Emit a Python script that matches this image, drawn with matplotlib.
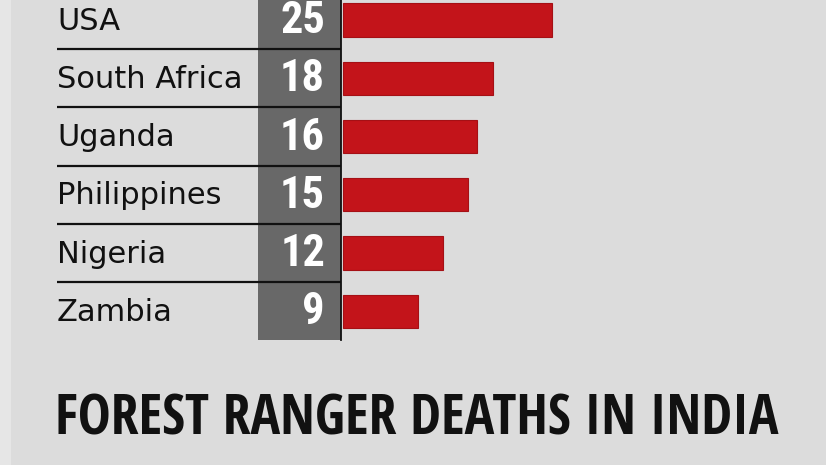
import matplotlib
matplotlib.use("Agg")
import matplotlib.pyplot as plt
from matplotlib.patches import Rectangle

countries = ["USA", "South Africa", "Uganda", "Philippines", "Nigeria", "Zambia"]
deaths = [25, 18, 16, 15, 12, 9]
title = "FOREST RANGER DEATHS IN INDIA"

bg = "#dcdcdc"
red = "#c3141a"
col_gray = "#686868"

W, H = 826, 465
fig = plt.figure(figsize=(W / 100, H / 100), dpi=100, facecolor=bg)
ax = fig.add_axes([0, 0, 1, 1])
ax.set_facecolor(bg)

# layout: value 0 at pixel 343, 8.36 px per death; rows 58.25 px apart, first at 20 px
px_unit = 8.36
x0 = 343
pitch = 58.25
y0 = 20
ax.set_xlim(-x0 / px_unit, (W - x0) / px_unit)
ax.set_ylim((H - y0) / pitch, -y0 / pitch)
ax.axis("off")

def px(x):
    return (x - x0) / px_unit

def py(y):
    return (y - y0) / pitch

cond = ["Roboto Condensed", "DejaVu Sans"]

# light strip on the left edge
ax.add_patch(Rectangle((px(0), py(-10)), px(11) - px(0), py(H + 10) - py(-10),
                       color="#e6e6e6", lw=0, zorder=0))

# dark column behind the numbers
ax.add_patch(Rectangle((px(258), py(-10)), px(341) - px(258), py(340) - py(-10),
                       color=col_gray, lw=0, zorder=1))
ax.plot([px(341), px(341)], [py(-10), py(340)], color="#111111", lw=1.3, zorder=3)

rows = range(len(countries))
ax.barh(list(rows), deaths, height=0.57, left=px(343), color=red,
        edgecolor="#a51015", linewidth=0.8, zorder=2)

for i, (c, d) in enumerate(zip(countries, deaths)):
    ax.text(px(57), i + 0.02, c, ha="left", va="center", fontsize=22,
            family=["DejaVu Sans"], color="#111111", zorder=4)
    ax.text(px(325), i + 0.02, str(d), ha="right", va="center", fontsize=32,
            family=cond, fontweight="bold", color="white", zorder=4)
    if i < len(countries) - 1:
        ax.plot([px(57), px(341)], [i + 0.5, i + 0.5], color="#111111",
                lw=1.6, zorder=3, solid_capstyle="butt")

ax.text(px(55), py(420), title, ha="left", va="center", fontsize=40,
        family=["Open Sans Condensed", "DejaVu Sans"], fontweight="bold",
        color="#111111")

fig.savefig("out.png", dpi=100, facecolor=bg)
